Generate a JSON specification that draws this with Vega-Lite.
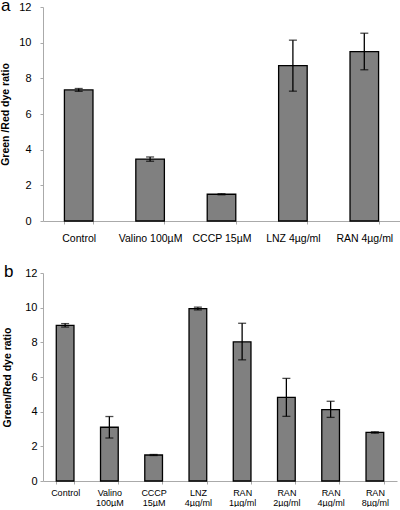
{
  "$schema": "https://vega.github.io/schema/vega-lite/v6.json",
  "padding": {"left": 0, "top": -3, "right": 0, "bottom": 0},
  "background": "white",
  "columns": 1,
  "align": "none",
  "spacing": 19,
  "config": {
    "font": "Liberation Sans",
    "view": {"stroke": null},
    "axis": {"grid": false, "domainColor": "#aaaaaa", "tickColor": "#aaaaaa", "labelColor": "#000000", "titleColor": "#000000", "labelFont": "Liberation Sans", "titleFont": "Liberation Sans"},
    "title": {"font": "Liberation Sans", "fontWeight": "normal", "fontSize": 17, "anchor": "start", "frame": "group", "color": "#000000"}
  },
  "datasets": {
    "a": [
      {"label": "Control", "value": 7.35, "lo": 7.27, "hi": 7.43},
      {"label": "Valino 100µM", "value": 3.47, "lo": 3.35, "hi": 3.59},
      {"label": "CCCP 15µM", "value": 1.5, "lo": 1.47, "hi": 1.53},
      {"label": "LNZ 4µg/ml", "value": 8.71, "lo": 7.28, "hi": 10.14},
      {"label": "RAN 4µg/ml", "value": 9.5, "lo": 8.48, "hi": 10.53}
    ],
    "b": [
      {"label": "Control", "value": 8.98, "lo": 8.88, "hi": 9.08},
      {"label": "Valino 100µM", "value": 3.1, "lo": 2.48, "hi": 3.72},
      {"label": "CCCP 15µM", "value": 1.5, "lo": 1.47, "hi": 1.53},
      {"label": "LNZ 4µg/ml", "value": 9.95, "lo": 9.87, "hi": 10.03},
      {"label": "RAN 1µg/ml", "value": 8.03, "lo": 6.99, "hi": 9.1},
      {"label": "RAN 2µg/ml", "value": 4.83, "lo": 3.73, "hi": 5.92},
      {"label": "RAN 4µg/ml", "value": 4.12, "lo": 3.67, "hi": 4.6},
      {"label": "RAN 8µg/ml", "value": 2.8, "lo": 2.76, "hi": 2.84}
    ]
  },
  "concat": [
    {
      "width": 357,
      "height": 214,
      "data": {"name": "a"},
      "title": {"text": "a", "dx": -42, "dy": 14, "offset": 0},
      "encoding": {
        "x": {"field": "label", "type": "nominal", "sort": null,
          "scale": {"paddingInner": 0.6, "paddingOuter": 0.3},
          "axis": {"title": null, "labelAngle": 0, "labelFontSize": 10.5, "labelPadding": 9, "tickBand": "extent", "tickSize": 3}},
        "y": {"type": "quantitative",
          "scale": {"domain": [0, 12]},
          "axis": {"title": "Green /Red dye ratio", "values": [0, 2, 4, 6, 8, 10, 12], "labelFontSize": 11, "labelPadding": 9, "tickSize": 3, "titleFontSize": 10.5, "titleFontWeight": "bold", "titlePadding": 8}}
      },
      "layer": [
        {"mark": {"type": "bar", "fill": "#808080", "stroke": "#000000", "strokeWidth": 1.3}, "encoding": {"y": {"field": "value", "type": "quantitative"}}},
        {"mark": {"type": "errorbar", "ticks": {"size": 8, "color": "#000000", "thickness": 1.3}, "rule": {"color": "#000000", "strokeWidth": 1.3}},
          "encoding": {"y": {"field": "lo", "type": "quantitative", "title": "Green /Red dye ratio"}, "y2": {"field": "hi"}}}
      ]
    },
    {
      "width": 354,
      "height": 208,
      "data": {"name": "b"},
      "title": {"text": "b", "dx": -39, "dy": 14, "offset": 0},
      "encoding": {
        "x": {"field": "label", "type": "nominal", "sort": null,
          "scale": {"paddingInner": 0.6, "paddingOuter": 0.3},
          "axis": {"title": null, "labelAngle": 0, "labelFontSize": 9, "labelPadding": 4, "labelLineHeight": 10, "tickBand": "extent", "tickSize": 3, "labelExpr": "split(datum.label, ' ')"}},
        "y": {"type": "quantitative",
          "scale": {"domain": [0, 12]},
          "axis": {"title": "Green/Red dye ratio", "values": [0, 2, 4, 6, 8, 10, 12], "labelFontSize": 11, "labelPadding": 3, "tickSize": 3, "titleFontSize": 10.5, "titleFontWeight": "bold", "titlePadding": 12}}
      },
      "layer": [
        {"mark": {"type": "bar", "fill": "#808080", "stroke": "#000000", "strokeWidth": 1.3}, "encoding": {"y": {"field": "value", "type": "quantitative"}}},
        {"mark": {"type": "errorbar", "ticks": {"size": 8, "color": "#000000", "thickness": 1.3}, "rule": {"color": "#000000", "strokeWidth": 1.3}},
          "encoding": {"y": {"field": "lo", "type": "quantitative", "title": "Green/Red dye ratio"}, "y2": {"field": "hi"}}}
      ]
    }
  ]
}
